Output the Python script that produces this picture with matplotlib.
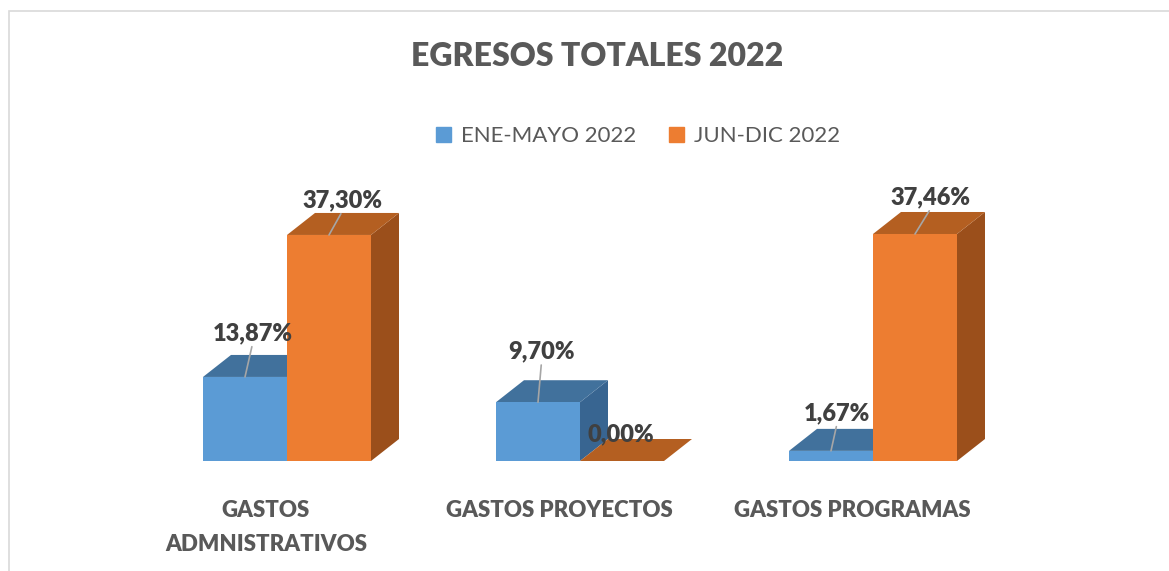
import matplotlib
matplotlib.use("Agg")
import matplotlib.pyplot as plt
from matplotlib.patches import Polygon, Rectangle, Patch

categories = ["GASTOS\nADMNISTRATIVOS", "GASTOS PROYECTOS", "GASTOS PROGRAMAS"]
series = ["ENE-MAYO 2022", "JUN-DIC 2022"]
ene_mayo = [13.87, 9.70, 1.67]
jun_dic = [37.30, 0.00, 37.46]
labels_ene = ["13,87%", "9,70%", "1,67%"]
labels_jun = ["37,30%", "0,00%", "37,46%"]

# colours: front, top, side
blue = ("#5b9bd5", "#41719c", "#386591")
orange = ("#ed7d31", "#b45f21", "#9b4f1b")

W, H = 1169, 571
plt.rcParams["font.family"] = ["Lato", "DejaVu Sans"]
fig = plt.figure(figsize=(W / 100, H / 100), dpi=100)

# layout in pixels
gx = 293.0      # px between groups
py = 6.06       # px per percent
x0px, y0px = 287.0, 461.0   # centre of first group, baseline
ax = fig.add_axes([0, 0, 1, 1])
ax.set_xlim(-x0px / gx, (W - x0px) / gx)
ax.set_ylim((y0px - H) / py, y0px / py)
ax.axis("off")

bw = 84 / gx        # bar width
ddx = 28 / gx       # depth offset x
ddy = 22 / py       # depth offset y


def bar3d(left, val, cols):
    front, top, side = cols
    ax.add_patch(Polygon([(left + bw, 0), (left + bw + ddx, ddy),
                          (left + bw + ddx, val + ddy), (left + bw, val)],
                         closed=True, fc=side, ec="none"))
    ax.add_patch(Polygon([(left, val), (left + bw, val),
                          (left + bw + ddx, val + ddy), (left + ddx, val + ddy)],
                         closed=True, fc=top, ec="none"))
    if val > 0:
        ax.bar(left, val, width=bw, align="edge", color=front, edgecolor="none")


for i in range(len(categories)):
    bar3d(i - bw, ene_mayo[i], blue)
    bar3d(i, jun_dic[i], orange)

# label offsets (points) from the top front edge centre
off_ene = [(5.4, 31.7), (2.5, 36.7), (4.3, 27.4)]
off_jun = [(9.7, 25.2), (-1.1, 19.4), (11.5, 26.6)]
lblc = "#404040"
for i in range(len(categories)):
    for val, txt, off, xc in ((ene_mayo[i], labels_ene[i], off_ene[i], i - bw / 2),
                              (jun_dic[i], labels_jun[i], off_jun[i], i + bw / 2)):
        ap = None
        if val > 0:
            ap = dict(arrowstyle="-", color="#a6a6a6", lw=1.2, relpos=(0.5, 0),
                      shrinkA=0, shrinkB=0)
        ax.annotate(txt, xy=(xc, val), xytext=off, textcoords="offset points",
                    ha="center", va="center", fontsize=17, fontweight="heavy",
                    color=lblc, arrowprops=ap)

# category labels
for i, c in enumerate(categories):
    ax.text(i - 21 / gx, (y0px - 500) / py, c, ha="center", va="top",
            fontsize=16, fontweight="heavy", color="#595959", linespacing=1.75)

fig.text(597 / W, 1 - 57 / H, "EGRESOS TOTALES 2022", ha="center", va="center",
         fontsize=23, fontweight="heavy", color="#595959")

handles = [Patch(color=blue[0]), Patch(color=orange[0])]
fig.legend(handles, series, loc="center", bbox_to_anchor=(638 / W, 1 - 136 / H),
           ncol=2, frameon=False, fontsize=16, labelcolor="#595959",
           handlelength=0.65, handleheight=0.65, handletextpad=0.45,
           columnspacing=1.5)

fig.patches.append(Rectangle((8.5 / W, -0.1), 1.2, 1.1 - 10.5 / H,
                             transform=fig.transFigure, fill=False,
                             ec="#d9d9d9", lw=1.2))

fig.savefig("out.png", dpi=100)
